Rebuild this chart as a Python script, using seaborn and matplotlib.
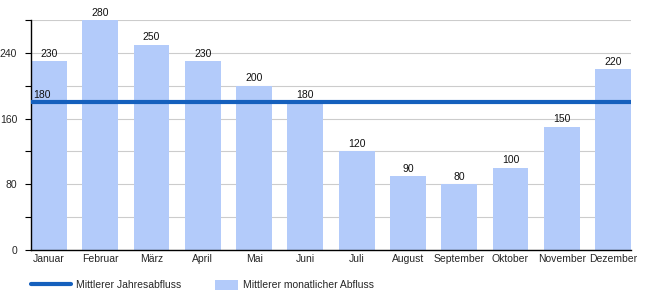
import matplotlib
matplotlib.use("Agg")
import matplotlib.pyplot as plt
import seaborn as sns
import pandas as pd
import numpy as np
from matplotlib.lines import Line2D
from matplotlib.patches import Patch

months = ["Januar", "Februar", "März", "April", "Mai", "Juni", "Juli",
          "August", "September", "Oktober", "November", "Dezember"]
monthly = [230, 280, 250, 230, 200, 180, 120, 90, 80, 100, 150, 220]
annual_mean = 180
yticks_major = [0, 80, 160, 240]
yticks_minor = [40, 120, 200, 280]

sns.set_theme(style="white")
plt.rcParams['font.family'] = ['Liberation Sans', 'DejaVu Sans']

bar_color = "#b3cbfa"
line_color = "#1560bd"
fs = 7.5

df = pd.DataFrame({"Monat": months, "Abfluss": monthly})

fig = plt.figure(figsize=(6.5, 3.0), dpi=100)
ax = fig.add_axes([31/650, 50/300, 600/650, 230/300])

sns.barplot(data=df, x="Monat", y="Abfluss", color=bar_color, width=0.7,
            saturation=1, ax=ax, zorder=2, linewidth=0, edgecolor="none")

ax.set_xlim(-0.35, 11.35)
ax.set_ylim(0, 280)
ax.set_yticks(yticks_major)
ax.set_yticks(yticks_minor, minor=True)
ax.yaxis.grid(True, which="both", color="#cccccc", linewidth=0.8, zorder=0)
ax.set_axisbelow(True)
ax.tick_params(axis="y", which="both", length=4, width=0.8, color="black",
               left=True, labelsize=fs, pad=6)
ax.tick_params(axis="x", length=0, labelsize=fs, pad=3)
ax.set_xlabel("")
ax.set_ylabel("")
for s in ["top", "right"]:
    ax.spines[s].set_visible(False)
for s in ["left", "bottom"]:
    ax.spines[s].set_color("black")
    ax.spines[s].set_linewidth(1)

for i, v in enumerate(monthly):
    ax.text(i, v + 3, str(v), ha="center", va="bottom", fontsize=fs, color="#111111")

ax.axhline(annual_mean, color=line_color, linewidth=3, zorder=3)
ax.text(-0.3, annual_mean + 3, str(annual_mean), ha="left", va="bottom",
        fontsize=fs, color="#111111", zorder=4)

px = fs * 100 / 72.0
fig.legend([Line2D([0], [0], color=line_color, linewidth=3)],
           ["Mittlerer Jahresabfluss"],
           loc="center left", bbox_to_anchor=(31/650, 1 - 285/300),
           frameon=False, fontsize=fs, borderpad=0, borderaxespad=0,
           handlelength=40/px, handletextpad=5/px)
fig.legend([Patch(facecolor=bar_color, edgecolor="none")],
           ["Mittlerer monatlicher Abfluss"],
           loc="center left", bbox_to_anchor=(215/650, 1 - 285/300),
           frameon=False, fontsize=fs, borderpad=0, borderaxespad=0,
           handlelength=23/px, handleheight=11/px, handletextpad=5/px)

fig.savefig("out.png", dpi=100)
